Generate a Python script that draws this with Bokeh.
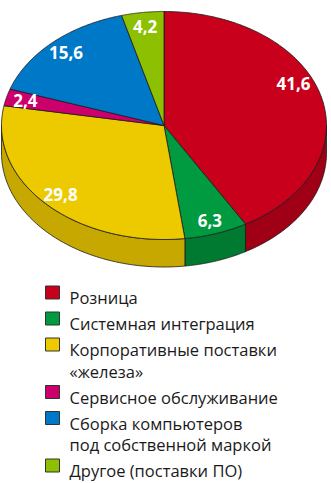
import numpy as np
from bokeh.plotting import figure
from bokeh.models import Range1d
from bokeh.core.properties import value
from bokeh.embed import file_html
from bokeh.resources import INLINE

# ---- data ----
categories = [
    "Розница",
    "Системная интеграция",
    "Корпоративные поставки\n«железа»",
    "Сервисное обслуживание",
    "Сборка компьютеров\nпод собственной маркой",
    "Другое (поставки ПО)",
]
shares = [41.6, 6.3, 29.8, 2.4, 15.6, 4.2]
share_labels = ["41,6", "6,3", "29,8", "2,4", "15,6", "4,2"]

# ---- styles ----
top_colors = ["#C9001C", "#009A40", "#EDCA00", "#CC006C", "#0078C8", "#8CC000"]
side_colors = ["#A00016", "#007A30", "#C6A800", "#A30056", "#005FA0", "#6F9800"]
label_shift_deg = [-10, 0, 0, 0, 0, 0]

W, H = 331, 483
cx, cy, rx, ry, depth = 163.5, 125.0, 162.5, 114.0, 27.5
label_r = 0.88

p = figure(width=W, height=H, x_range=Range1d(0, W), y_range=Range1d(H, 0),
           output_backend="svg", toolbar_location=None, min_border=0,
           x_axis_location=None, y_axis_location=None)
p.grid.visible = False
p.outline_line_color = None
p.background_fill_color = "white"

total = float(sum(shares))
bounds = np.concatenate([[0.0], np.cumsum(shares) / total * 360.0])


def ex(theta_deg, f=1.0):
    t = np.radians(theta_deg)
    return cx + f * rx * np.sin(t)


def ey(theta_deg, f=1.0):
    t = np.radians(theta_deg)
    return cy - f * ry * np.cos(t)


# sides (visible from 90 to 270 degrees, clockwise from top)
sx, sy, sc = [], [], []
for i in range(len(shares)):
    a0, a1 = max(bounds[i], 90.0), min(bounds[i + 1], 270.0)
    if a1 <= a0:
        continue
    th = np.linspace(a0, a1, 80)
    xs = list(ex(th)) + list(ex(th[::-1]))
    ys = list(ey(th)) + list(ey(th[::-1]) + depth)
    sx.append(xs); sy.append(ys); sc.append(side_colors[i])
p.patches(sx, sy, fill_color=sc, line_color="#1a1a1a", line_width=0.8)

# top face
tx, ty = [], []
for i in range(len(shares)):
    th = np.linspace(bounds[i], bounds[i + 1], 120)
    tx.append([cx] + list(ex(th)))
    ty.append([cy] + list(ey(th)))
p.patches(tx, ty, fill_color=top_colors, line_color="#1a1a1a", line_width=0.8)

# value labels
mids = (bounds[:-1] + bounds[1:]) / 2 + np.array(label_shift_deg)
p.text(x=list(ex(mids, label_r)), y=list(ey(mids, label_r)), text=share_labels,
       text_color="white", text_font=value("Open Sans"), text_font_style="bold",
       text_font_size="17px", text_align="center", text_baseline="middle")

# legend
base0, step, line_gap = 297.0, 26.0, 21.5
sq_x, text_x = 52.0, 69.0
lx, ly, lt, qy = [], [], [], []
yb = base0
for lab in categories:
    lines = lab.split("\n")
    qy.append(yb - 5.0)
    for k, ln in enumerate(lines):
        lx.append(text_x); ly.append(yb); lt.append(ln)
        if k < len(lines) - 1:
            yb += line_gap
    yb += step
p.rect(x=[sq_x] * len(categories), y=qy, width=14, height=13,
       fill_color=top_colors, line_color="#333333", line_width=1)
p.text(x=lx, y=ly, text=lt, text_color="#1a1a1a", text_font=value("Open Sans"),
       text_font_size="16.5px", text_align="left", text_baseline="alphabetic")

open("out.html", "w").write(file_html(p, INLINE))
